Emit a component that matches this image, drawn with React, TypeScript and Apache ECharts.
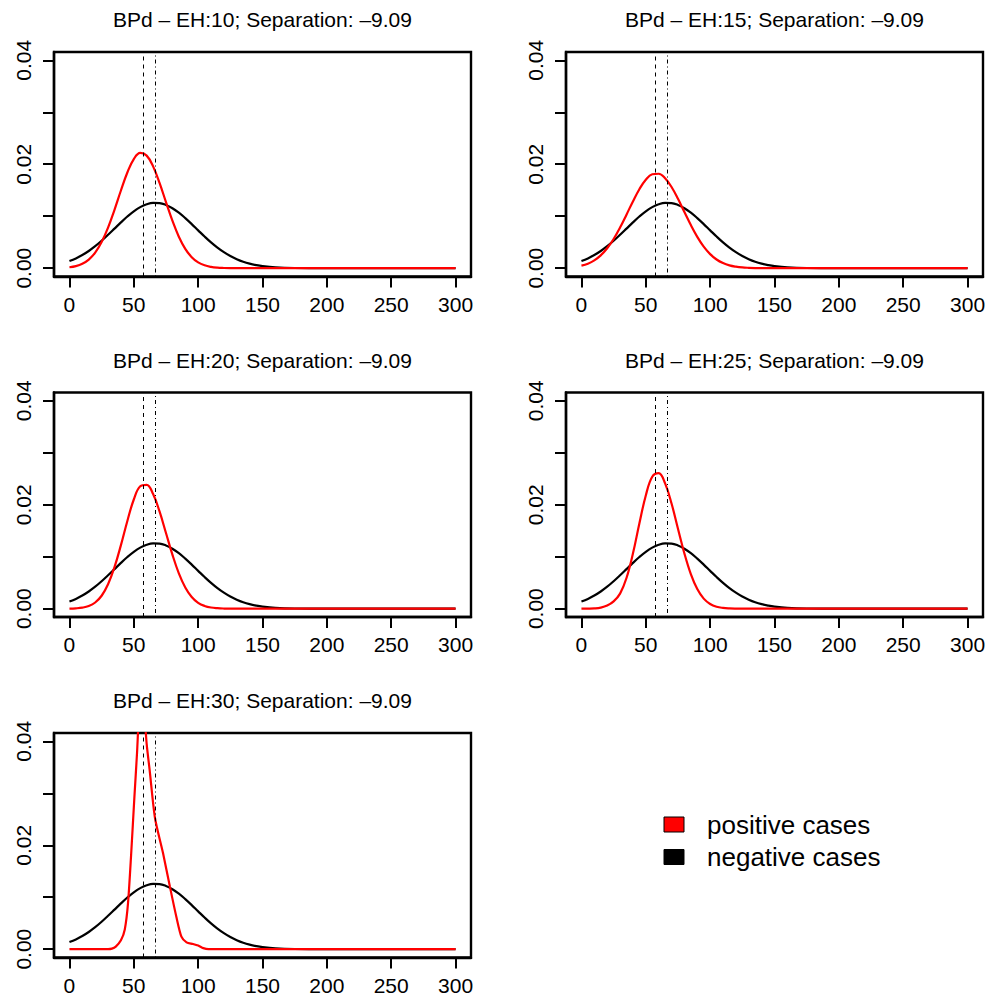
import React, { useEffect, useRef } from "react";
import * as echarts from "echarts";

// Shared x sample positions for the smooth density curves
const xs = [0, 5, 10, 15, 20, 25, 30, 35, 40, 45, 50, 55, 60, 65, 70, 75, 80, 85, 90, 95, 100, 105, 110, 115, 120, 125, 130, 135, 140, 145, 150, 160, 175, 200, 250, 300];

// Negative cases density (same in every panel)
const negative = [0.00137, 0.00188, 0.00253, 0.00331, 0.00423, 0.00528, 0.00642, 0.00761, 0.00881, 0.00994, 0.01094, 0.01175, 0.0123, 0.01257, 0.01253, 0.01217, 0.01154, 0.01068, 0.00963, 0.00848, 0.00728, 0.00609, 0.00497, 0.00396, 0.00308, 0.00233, 0.00173, 0.00124, 0.00087, 0.0006, 0.0004, 0.00017, 0.00004, 0, 0, 0];

// Positive cases density per panel
const positiveEH10 = [0.00018, 0.0004, 0.00085, 0.00166, 0.003, 0.00504, 0.00782, 0.01124, 0.01495, 0.01842, 0.021, 0.02217, 0.02166, 0.01959, 0.01641, 0.01272, 0.00913, 0.00606, 0.00373, 0.00212, 0.00112, 0.00055, 0.00025, 0.0001, 0.00004, 0.00001, 0, 0, 0, 0, 0, 0, 0, 0, 0, 0];
const positiveEH15 = [0.00048, 0.00087, 0.00151, 0.00247, 0.00383, 0.00562, 0.00782, 0.0103, 0.01285, 0.0152, 0.01703, 0.01807, 0.01817, 0.01731, 0.01562, 0.01335, 0.01081, 0.00829, 0.00603, 0.00415, 0.00271, 0.00167, 0.00098, 0.00054, 0.00029, 0.00014, 0.00007, 0.00003, 0.00001, 0, 0, 0, 0, 0, 0, 0];
const positiveEH20 = [0.00002, 0.00007, 0.0002, 0.00051, 0.00119, 0.00249, 0.0047, 0.00798, 0.01223, 0.01688, 0.02101, 0.02355, 0.02383, 0.02205, 0.01871, 0.01456, 0.01039, 0.0068, 0.00409, 0.00225, 0.00113, 0.00053, 0.00022, 0.00009, 0.00003, 0.00001, 0, 0, 0, 0, 0, 0, 0, 0, 0, 0];
const positiveEH25 = [0, 0.00002, 0.00006, 0.00021, 0.0006, 0.0014, 0.0029, 0.0059, 0.0106, 0.0164, 0.02179, 0.02539, 0.02608, 0.02412, 0.02024, 0.01539, 0.01062, 0.00665, 0.00377, 0.00194, 0.00091, 0.00038, 0.00015, 0.00005, 0.00001, 0, 0, 0, 0, 0, 0, 0, 0, 0, 0, 0];

// EH:30 panel has its own irregular density
const xsEH30 = [0, 30, 33, 36, 40, 43, 45.5, 48, 50.5, 52.5, 54, 56, 58, 60, 62.3, 66.5, 72.7, 78, 83, 87, 91, 96, 100, 104, 108, 150, 300];
const positiveEH30 = [0, 0, 0.0001, 0.0005, 0.0017, 0.0038, 0.0088, 0.0185, 0.0294, 0.0377, 0.045, 0.049, 0.046, 0.0395, 0.0345, 0.0252, 0.0185, 0.0121, 0.0063, 0.0024, 0.0013, 0.001, 0.0007, 0.0002, 0, 0, 0];

const titles = [
  "BPd \u2013 EH:10; Separation: \u20139.09",
  "BPd \u2013 EH:15; Separation: \u20139.09",
  "BPd \u2013 EH:20; Separation: \u20139.09",
  "BPd \u2013 EH:25; Separation: \u20139.09",
  "BPd \u2013 EH:30; Separation: \u20139.09",
];

const positiveMean = 57.7;
const negativeMean = 66.79;

const xTicks = [0, 50, 100, 150, 200, 250, 300];
const yTicks = [0, 0.01, 0.02, 0.03, 0.04];
const yLabels = [0, 0.02, 0.04];

const legendNames = ["positive cases", "negative cases"];

const FONT = '"Liberation Sans", Arial, Helvetica, sans-serif';

export default function App() {
  const ref = useRef<HTMLDivElement>(null);

  useEffect(() => {
    if (!ref.current) return;
    const chart = echarts.init(ref.current, null, { renderer: "svg" });

    const colLeft = [54, 566];
    const rowTop = [52, 392.5, 733];
    const W = 417;
    const H = 224.5;

    const positives = [positiveEH10, positiveEH15, positiveEH20, positiveEH25, positiveEH30];

    const grids: any[] = [];
    const xAxes: any[] = [];
    const yAxes: any[] = [];
    const series: any[] = [];
    const graphics: any[] = [];

    for (let i = 0; i < 5; i++) {
      const col = i % 2;
      const row = Math.floor(i / 2);
      const left = colLeft[col];
      const top = rowTop[row];
      grids.push({
        left,
        top,
        width: W,
        height: H,
        show: true,
        borderColor: "#000",
        borderWidth: 2.4,
        backgroundColor: "transparent",
        containLabel: false,
        outerBoundsMode: "none",
      });
      xAxes.push({
        gridIndex: i,
        type: "value",
        min: -12,
        max: 312,
        axisLine: { show: true, onZero: false, lineStyle: { color: "#000", width: 2.4 } },
        splitLine: { show: false },
        axisTick: { show: true, length: 11, lineStyle: { color: "#000", width: 2 }, customValues: xTicks },
        axisLabel: {
          customValues: xTicks,
          margin: 17,
          color: "#000",
          fontSize: 21,
          fontFamily: FONT,
          showMinLabel: true,
          showMaxLabel: true,
        },
      });
      yAxes.push({
        gridIndex: i,
        type: "value",
        min: -0.0016,
        max: 0.0416,
        axisLine: { show: true, onZero: false, lineStyle: { color: "#000", width: 2.4 } },
        splitLine: { show: false },
        axisTick: { show: true, length: 11, lineStyle: { color: "#000", width: 2 }, customValues: yTicks },
        axisLabel: {
          customValues: yLabels,
          rotate: 90,
          margin: 20,
          color: "#000",
          fontSize: 21,
          fontFamily: FONT,
          formatter: (v: number) => v.toFixed(2),
        },
      });

      const posX = i === 4 ? xsEH30 : xs;
      const posY = positives[i];

      series.push({
        type: "line",
        name: legendNames[1],
        xAxisIndex: i,
        yAxisIndex: i,
        data: xs.map((x, k) => [x, negative[k]]),
        symbol: "none",
        showSymbol: false,
        smooth: 0.4,
        clip: true,
        lineStyle: { color: "#000", width: 2.2 },
        z: 2,
      });
      series.push({
        type: "line",
        name: legendNames[0],
        xAxisIndex: i,
        yAxisIndex: i,
        data: posX.map((x, k) => [x, posY[k]]),
        symbol: "none",
        showSymbol: false,
        smooth: i === 4 ? 0.25 : 0.4,
        clip: true,
        lineStyle: { color: "#ff0000", width: 2.2 },
        z: 3,
        markLine: {
          silent: true,
          symbol: ["none", "none"],
          label: { show: false },
          lineStyle: { color: "#000", width: 1 },
          data: [
            { xAxis: positiveMean, lineStyle: { color: "#000", width: 1, type: [4, 4] } },
            { xAxis: negativeMean, lineStyle: { color: "#000", width: 1, type: [1, 3, 4, 3] } },
          ],
        },
      });

      graphics.push({
        type: "text",
        x: left + W / 2,
        y: top - 32.3,
        silent: true,
        style: {
          text: titles[i],
          font: `21px ${FONT}`,
          fill: "#000",
          textAlign: "center",
          textVerticalAlign: "middle",
          align: "center",
          verticalAlign: "middle",
        },
      });
    }

    // Legend
    graphics.push({
      type: "rect",
      shape: { x: 664, y: 817, width: 20, height: 15 },
      style: { fill: "#ff0000", stroke: "#000", lineWidth: 1 },
      silent: true,
    });
    graphics.push({
      type: "rect",
      shape: { x: 664, y: 849.5, width: 20, height: 15 },
      style: { fill: "#000", stroke: "#000", lineWidth: 1 },
      silent: true,
    });
    graphics.push({
      type: "text",
      x: 707,
      y: 825,
      silent: true,
      style: {
        text: legendNames[0],
        font: `26px ${FONT}`,
        fill: "#000",
        textAlign: "left",
        textVerticalAlign: "middle",
        align: "left",
        verticalAlign: "middle",
      },
    });
    graphics.push({
      type: "text",
      x: 707,
      y: 856.5,
      silent: true,
      style: {
        text: legendNames[1],
        font: `26px ${FONT}`,
        fill: "#000",
        textAlign: "left",
        textVerticalAlign: "middle",
        align: "left",
        verticalAlign: "middle",
      },
    });

    chart.setOption({
      animation: false,
      backgroundColor: "#fff",
      textStyle: { fontFamily: FONT },
      grid: grids,
      xAxis: xAxes,
      yAxis: yAxes,
      series,
      graphic: { elements: graphics },
    });

    return () => {
      chart.dispose();
    };
  }, []);

  return (
    <div
      ref={ref}
      style={{ position: "absolute", left: 0, top: 0, width: 992, height: 1003, background: "#fff" }}
    />
  );
}
